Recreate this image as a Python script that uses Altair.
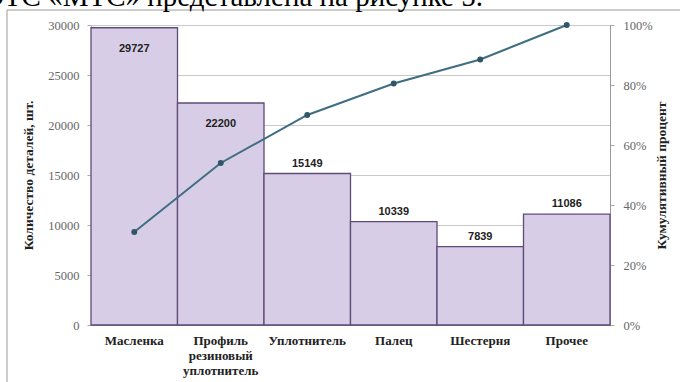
import altair as alt
import pandas as pd

categories = ["Масленка", "Профиль резиновый уплотнитель", "Уплотнитель", "Палец", "Шестерня", "Прочее"]
counts = [29727, 22200, 15149, 10339, 7839, 11086]
cum_pct = [0.31, 0.54, 0.70, 0.805, 0.885, 1.0]
left_ticks = [0, 5000, 10000, 15000, 20000, 25000, 30000]
right_ticks = [0, 0.2, 0.4, 0.6, 0.8, 1.0]
caption = "ОТС «МТС» представлена на рисунке 5."

df = pd.DataFrame({"cat": categories, "count": counts, "cum": cum_pct})
one = pd.DataFrame({"a": [0]})

BAR_FILL = "#d8cde7"
BAR_EDGE = "#5e4b78"
LINE_C = "#3f6d82"

xenc = alt.X(
    "cat:N", sort=categories, title=None,
    scale=alt.Scale(paddingInner=0, paddingOuter=0),
    axis=alt.Axis(
        labelAngle=0, labelFont="Liberation Serif", labelFontWeight="bold",
        labelFontSize=13, labelColor="#222", labelPadding=9, labelLineHeight=15,
        labelExpr="datum.label == 'Профиль резиновый уплотнитель' ? ['Профиль', 'резиновый', 'уплотнитель'] : datum.label",
        ticks=False, domainColor="#888", labelLimit=200,
    ),
)

frame = alt.Chart(one).mark_rect(filled=False, stroke="#9a9a9a", strokeWidth=1).encode(
    x=alt.value(-84), x2=alt.value(600), y=alt.value(-15), y2=alt.value(380)
)

top_text = alt.Chart(one).mark_text(
    align="right", baseline="alphabetic", font="Liberation Serif", fontSize=29, color="#000"
).encode(x=alt.value(392), y=alt.value(-19), text=alt.value(caption))

bars = alt.Chart(df).mark_bar(fill=BAR_FILL, stroke=BAR_EDGE, strokeWidth=1.3).encode(
    x=xenc,
    y=alt.Y(
        "count:Q", title="Количество деталей, шт.",
        scale=alt.Scale(domain=[0, 30000], nice=False),
        axis=alt.Axis(
            values=left_ticks, format="d", grid=True, gridColor="#c9c9c9", labelFont="Liberation Serif",
            labelFontSize=12.5, labelColor="#666", tickColor="#aaa", tickSize=4, domainColor="#bbb",
            titleFont="Liberation Serif", titleFontWeight="bold", titleFontSize=13.5, titleColor="#222",
            titlePadding=12, labelPadding=8,
        ),
    ),
)

lab_in = alt.Chart(df).transform_filter("datum.count > 20000").mark_text(
    baseline="middle", dy=21, font="Liberation Sans", fontWeight="bold", fontSize=11, color="#222"
).encode(x=alt.X("cat:N", sort=categories), y=alt.Y("count:Q"), text=alt.Text("count:Q", format="d"))

lab_out = alt.Chart(df).transform_filter("datum.count <= 20000").mark_text(
    baseline="middle", dy=-10, font="Liberation Sans", fontWeight="bold", fontSize=11, color="#222"
).encode(x=alt.X("cat:N", sort=categories), y=alt.Y("count:Q"), text=alt.Text("count:Q", format="d"))

left = alt.layer(bars, lab_in, lab_out)

yr = alt.Y(
    "cum:Q", title="Кумулятивный процент",
    scale=alt.Scale(domain=[0, 1], nice=False),
    axis=alt.Axis(
        orient="right", values=right_ticks, format=".0%", grid=False,
        labelFont="Liberation Serif", labelFontSize=12.5, labelColor="#666",
        tickColor="#aaa", tickSize=4, domainColor="#999", labelPadding=9,
        titleFont="Liberation Serif", titleFontWeight="bold", titleFontSize=13.5, titleColor="#222",
        titleAngle=270, titlePadding=16,
    ),
)

line = alt.Chart(df).mark_line(color=LINE_C, strokeWidth=2).encode(
    x=alt.X("cat:N", sort=categories), y=yr
)
pts = alt.Chart(df).mark_point(filled=True, color="#2f5566", size=35, opacity=1).encode(
    x=alt.X("cat:N", sort=categories), y=alt.Y("cum:Q")
)
right = alt.layer(line, pts)

chart = alt.layer(left, right, frame, top_text).resolve_scale(y="independent").properties(
    width=519, height=300,
    autosize=alt.AutoSizeParams(type="none"),
    padding={"left": 91, "top": 25, "right": 70, "bottom": 57},
    background="white",
).configure_view(stroke=None)

chart.save("out.html", embed_options={"renderer": "svg", "actions": False})
